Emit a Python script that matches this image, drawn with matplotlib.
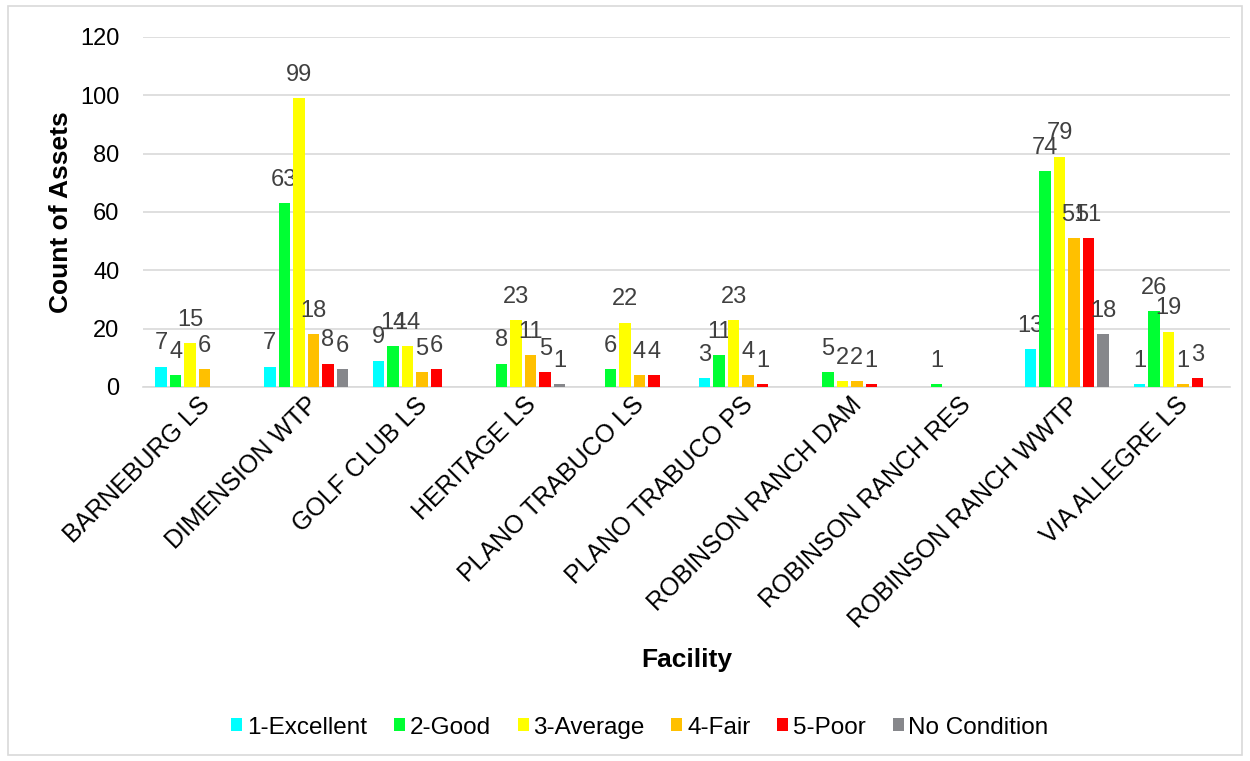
import numpy as np
import matplotlib.pyplot as plt
from matplotlib.patches import Rectangle

plt.rcParams['font.family'] = ['Liberation Sans', 'DejaVu Sans']

facilities = ['BARNEBURG LS', 'DIMENSION WTP', 'GOLF CLUB LS', 'HERITAGE LS',
              'PLANO TRABUCO LS', 'PLANO TRABUCO PS', 'ROBINSON RANCH DAM',
              'ROBINSON RANCH RES', 'ROBINSON RANCH WWTP', 'VIA ALLEGRE LS']

# 0 = no assets in that condition (no bar, no label)
excellent = [7, 7, 9, 0, 0, 3, 0, 0, 13, 1]
good = [4, 63, 14, 8, 6, 11, 5, 1, 74, 26]
average = [15, 99, 14, 23, 22, 23, 2, 0, 79, 19]
fair = [6, 18, 5, 11, 4, 4, 2, 0, 51, 1]
poor = [0, 8, 6, 5, 4, 1, 1, 0, 51, 3]
no_condition = [0, 6, 0, 1, 0, 0, 0, 0, 18, 0]

series_names = ['1-Excellent', '2-Good', '3-Average', '4-Fair', '5-Poor', 'No Condition']
series = [excellent, good, average, fair, poor, no_condition]
colors = ['#00FFFF', '#00FF33', '#FFFF00', '#FFC000', '#FF0000', '#86878B']

fig = plt.figure(figsize=(12.5, 7.61), dpi=100)
ax = fig.add_axes([0.1144, 0.4915, 0.8696, 0.46])

x = np.arange(len(facilities))
slot = 0.1334
width = 0.106

for i in range(len(series)):
    vals = np.array(series[i], dtype=float)
    xpos = x + (i - 2.5) * slot
    ax.bar(xpos, vals, width, color=colors[i], label=series_names[i], zorder=3)
    for xp, v in zip(xpos, vals):
        if v > 0:
            ax.annotate(str(int(v)), (xp, v), xytext=(0, 12.5), textcoords='offset points',
                        ha='center', va='baseline', fontsize=17, color='#404040')

ax.set_xlim(-0.5, len(facilities) - 0.5)
ax.set_ylim(0, 120)
ax.set_yticks(np.arange(0, 121, 20))
ax.yaxis.grid(True, color='#D9D9D9', linewidth=1.2, zorder=0)
ax.set_axisbelow(True)
for s in ['top', 'right', 'left']:
    ax.spines[s].set_visible(False)
ax.spines['bottom'].set_color('#D9D9D9')
ax.spines['bottom'].set_linewidth(1.2)
ax.tick_params(axis='both', length=0, colors='black')
ax.tick_params(axis='y', pad=17, labelsize=17)
ax.tick_params(axis='x', pad=4, labelsize=18)
ax.set_xticks(x)
ax.set_xticklabels(facilities, rotation=45, ha='right', rotation_mode='anchor')

ax.set_ylabel('Count of Assets', fontsize=19, fontweight='bold', labelpad=5)
ax.set_xlabel('Facility', fontsize=19, fontweight='bold', labelpad=11)

fig.legend(loc='center', bbox_to_anchor=(0.512, 0.044), ncol=6, frameon=False,
           fontsize=17.5, handlelength=0.45, handleheight=0.45, handletextpad=0.2,
           columnspacing=1.1)

# thin grey frame around the whole chart
fig.patches.append(Rectangle((0.0064, 0.008), 0.9872, 0.984, transform=fig.transFigure,
                             fill=False, edgecolor='#D9D9D9', linewidth=1.2))

fig.savefig('out.png', dpi=100)
